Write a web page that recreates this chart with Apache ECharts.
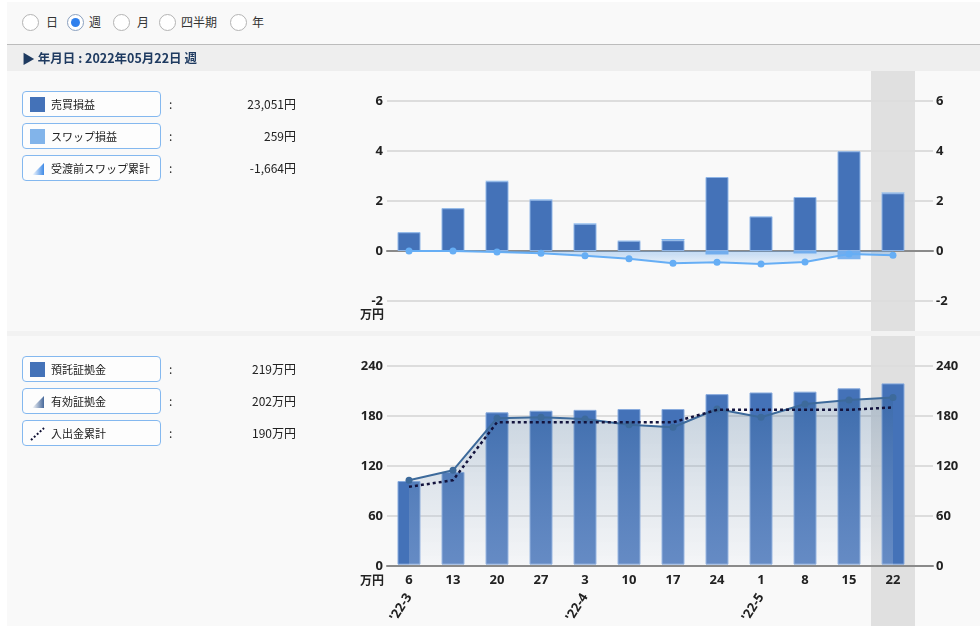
<!DOCTYPE html>
<html>
<head>
<meta charset="utf-8">
<script src="https://cdn.jsdelivr.net/npm/echarts@6/dist/echarts.min.js"></script>
<style>
  html, body { margin:0; padding:0; }
  body { width:980px; height:626px; overflow:hidden; background:#fff; position:relative;
         font-family:'Noto Sans CJK JP','Noto Sans',sans-serif; color:#222; }
  .abs { position:absolute; }
  .radio { position:absolute; top:14px; width:15px; height:15px; border:1px solid #b4b4b4; border-radius:50%; background:#fff; }
  .radio.on { border-color:#8aa0bf; }
  .radio.on::after { content:''; position:absolute; left:3px; top:3px; width:9px; height:9px; border-radius:50%; background:#2f80ed; }
  .rlab { position:absolute; top:13px; font-size:12px; line-height:18px; color:#333; }
  .box { position:absolute; left:22px; width:137px; height:24px; border:1px solid #84b8ef; border-radius:4px; background:#fdfdfd; }
  .box svg { position:absolute; left:7px; top:5px; }
  .box span { position:absolute; left:28px; top:0; line-height:24px; font-size:11px; color:#222; }
  .colon { position:absolute; left:169px; font-size:12px; line-height:26px; color:#222; }
  .val { position:absolute; left:186px; width:110px; font-size:12px; line-height:26px; color:#222; text-align:right; }
</style>
</head>
<body>
<div class="abs" style="left:7px;top:2px;right:0;bottom:0;background:#f9f9f9"></div>
<div class="abs" style="left:7px;top:44px;right:0;height:1px;background:#bcbcbc"></div>
<div class="abs" style="left:7px;top:45px;right:0;height:26px;background:#eeeeee"></div>
<div class="abs" style="left:7px;top:331px;right:0;height:5px;background:#f2f2f2"></div>

<div class="radio" style="left:22px"></div><div class="rlab" style="left:46px">日</div>
<div class="radio on" style="left:67px"></div><div class="rlab" style="left:89px">週</div>
<div class="radio" style="left:113px"></div><div class="rlab" style="left:137px">月</div>
<div class="radio" style="left:159px"></div><div class="rlab" style="left:181px">四半期</div>
<div class="radio" style="left:230px"></div><div class="rlab" style="left:252px">年</div>

<div class="abs" style="left:22px;top:45px;height:26px;line-height:26px;font-size:12.5px;font-weight:bold;color:#1e3a60;z-index:3;white-space:nowrap">
  <span style="font-size:13px;color:#1e3a60">▶</span> 年月日 : 2022年05月22日 週
</div>

<div id="chart" class="abs" style="left:0;top:0;width:980px;height:626px;z-index:1"></div>

<div class="abs" style="left:0;top:0;width:980px;height:626px;z-index:2">
  <div class="box" style="top:91px"><svg width="15" height="15"><rect width="15" height="15" fill="#4472b8"/></svg><span>売買損益</span></div>
  <div class="colon" style="top:91px">:</div><div class="val" style="top:91px">23,051円</div>
  <div class="box" style="top:123px"><svg width="15" height="15"><rect width="15" height="15" fill="#82b4ea"/></svg><span>スワップ損益</span></div>
  <div class="colon" style="top:123px">:</div><div class="val" style="top:123px">259円</div>
  <div class="box" style="top:155px"><svg width="15" height="15"><defs><linearGradient id="g1" x1="0" x2="1" y1="0" y2="0"><stop offset="0" stop-color="#ffffff"/><stop offset="1" stop-color="#3f8ae6"/></linearGradient></defs><polygon points="2,14 14,14 14,2" fill="url(#g1)"/></svg><span>受渡前スワップ累計</span></div>
  <div class="colon" style="top:155px">:</div><div class="val" style="top:155px">-1,664円</div>

  <div class="box" style="top:356px"><svg width="15" height="15"><rect width="15" height="15" fill="#4472b8"/></svg><span>預託証拠金</span></div>
  <div class="colon" style="top:356px">:</div><div class="val" style="top:356px">219万円</div>
  <div class="box" style="top:388px"><svg width="15" height="15"><defs><linearGradient id="g2" x1="0" x2="1" y1="0" y2="0"><stop offset="0" stop-color="#ffffff"/><stop offset="1" stop-color="#46689a"/></linearGradient></defs><polygon points="2,14 14,14 14,2" fill="url(#g2)"/></svg><span>有効証拠金</span></div>
  <div class="colon" style="top:388px">:</div><div class="val" style="top:388px">202万円</div>
  <div class="box" style="top:420px"><svg width="15" height="15"><line x1="1" y1="14" x2="14" y2="2" stroke="#111133" stroke-width="2" stroke-dasharray="2,2"/></svg><span>入出金累計</span></div>
  <div class="colon" style="top:420px">:</div><div class="val" style="top:420px">190万円</div>
</div>

<script>
// ---- data ----
const weeks = ['6','13','20','27','3','10','17','24','1','8','15','22'];
const monthLabels = ["'22-3","","","","'22-4","","","","'22-5","","",""];
const selectedWeek = [0,0,0,0,0,0,0,0,0,0,0,1];
// top panel (万円)
const tradePL = [0.75,1.71,2.79,2.05,1.09,0.41,0.43,2.96,1.38,2.16,3.99,2.31];
const swapPL  = [0.01,0.01,0.02,0.02,0.02,0.01,0.05,-0.14,0.01,-0.10,-0.33,0.03];
const swapCum = [0.00,0.00,-0.04,-0.09,-0.19,-0.31,-0.49,-0.45,-0.52,-0.44,-0.12,-0.17];
const topTicks = {min:-2, max:6, interval:2};
// bottom panel (万円)
const deposit   = [101,112,184,186,187,188,188,206,208,209,213,219];
const effective = [102,114,177,178,176,169,166,188,178,194,199,202];
const cashflow  = [94,102,172,172,172,172,172,187,187,187,187,190];
const botTicks = {min:0, max:240, interval:60};

const FONT = '"Noto Sans","Noto Sans CJK JP",sans-serif';
const lab = {color:'#222', fontSize:13, fontWeight:'bold', fontFamily:FONT};
const hidden = {show:false};
const lg = (a,b)=>({type:'linear',x:0,y:0,x2:0,y2:1,colorStops:[{offset:0,color:a},{offset:1,color:b}]});

const chart = echarts.init(document.getElementById('chart'));
chart.setOption({
  animation:false,
  grid:[
    {left:387, right:47, top:101, height:200},
    {left:387, width:528, top:101, height:200},
    {left:387, width:528, top:71, height:260},
    {left:387, right:47, top:366, height:200},
    {left:387, width:528, top:366, height:200},
    {left:387, width:528, top:336, height:290}
  ],
  xAxis:[
    {gridIndex:0, type:'value', min:0, max:1, axisLine:{show:true,onZero:true,lineStyle:{color:'#8a8a8a',width:2}}, axisTick:hidden, axisLabel:hidden, splitLine:hidden},
    {gridIndex:1, type:'category', data:weeks, show:false},
    {gridIndex:2, type:'category', data:weeks, show:false},
    {gridIndex:3, type:'value', min:0, max:1, axisLine:{show:true,onZero:true,lineStyle:{color:'#8a8a8a',width:2}}, axisTick:hidden, axisLabel:hidden, splitLine:hidden},
    {gridIndex:4, type:'category', data:weeks, position:'bottom', axisLine:hidden, axisTick:hidden,
      axisLabel:Object.assign({}, lab, {interval:0, margin:9})},
    {gridIndex:4, type:'category', data:weeks, position:'bottom', offset:24, axisLine:hidden, axisTick:hidden,
      axisLabel:Object.assign({}, lab, {interval:0, margin:6, rotate:58, formatter:(v,i)=>monthLabels[i]})},
    {gridIndex:5, type:'category', data:weeks, show:false}
  ],
  yAxis:[
    Object.assign({gridIndex:0, type:'value', position:'left', axisLine:hidden, axisTick:hidden,
      axisLabel:Object.assign({}, lab, {margin:4}), splitLine:{lineStyle:{color:'#dddddd',width:2}},
      name:'万円', nameLocation:'start', nameGap:15,
      nameTextStyle:{color:'#222', fontSize:12, fontWeight:'bold', fontFamily:FONT, align:'right', verticalAlign:'middle', padding:[0,3,0,0]}}, topTicks),
    Object.assign({gridIndex:0, type:'value', position:'right', axisLine:hidden, axisTick:hidden,
      axisLabel:Object.assign({}, lab, {margin:3}), splitLine:hidden}, topTicks),
    Object.assign({gridIndex:1, type:'value', show:false, splitLine:hidden}, topTicks),
    {gridIndex:2, type:'value', min:0, max:1, show:false, splitLine:hidden},
    Object.assign({gridIndex:3, type:'value', position:'left', axisLine:hidden, axisTick:hidden,
      axisLabel:Object.assign({}, lab, {margin:4}), splitLine:{lineStyle:{color:'#dddddd',width:2}},
      name:'万円', nameLocation:'start', nameGap:16,
      nameTextStyle:{color:'#222', fontSize:12, fontWeight:'bold', fontFamily:FONT, align:'right', verticalAlign:'middle', padding:[0,3,0,0]}}, botTicks),
    Object.assign({gridIndex:3, type:'value', position:'right', axisLine:hidden, axisTick:hidden,
      axisLabel:Object.assign({}, lab, {margin:3}), splitLine:hidden}, botTicks),
    Object.assign({gridIndex:4, type:'value', show:false, splitLine:hidden}, botTicks),
    {gridIndex:5, type:'value', min:0, max:1, show:false, splitLine:hidden}
  ],
  series:[
    {type:'bar', xAxisIndex:2, yAxisIndex:3, data:selectedWeek, barWidth:'100%', itemStyle:{color:'#e0e0e0'}, z:-1, silent:true},
    {name:'売買損益', type:'bar', xAxisIndex:1, yAxisIndex:2, stack:'pl', data:tradePL, barWidth:23,
      itemStyle:{color:'#4472b8', borderColor:'#8fb5e6', borderWidth:1}},
    {name:'スワップ損益', type:'bar', xAxisIndex:1, yAxisIndex:2, stack:'pl', data:swapPL, barWidth:23,
      itemStyle:{color:'#7db3ee'}},
    {type:'line', xAxisIndex:1, yAxisIndex:2, data:swapCum, symbol:'none', lineStyle:{width:0},
      areaStyle:{color:lg('rgba(90,160,235,0.5)','rgba(90,160,235,0.15)')}, z:3, silent:true},
    {name:'受渡前スワップ累計', type:'line', xAxisIndex:1, yAxisIndex:2, data:swapCum, symbol:'circle', symbolSize:7,
      itemStyle:{color:'#66aef5'}, lineStyle:{color:'#66aef5', width:2}, z:4},

    {type:'bar', xAxisIndex:6, yAxisIndex:7, data:selectedWeek, barWidth:'100%', itemStyle:{color:'#e0e0e0'}, z:-1, silent:true},
    {name:'預託証拠金', type:'bar', xAxisIndex:4, yAxisIndex:6, data:deposit, barWidth:23,
      itemStyle:{color:'#4472b8', borderColor:'#87aadd', borderWidth:1}},
    {name:'有効証拠金', type:'line', xAxisIndex:4, yAxisIndex:6, data:effective, symbol:'circle', symbolSize:7,
      itemStyle:{color:'#3d6a9b'}, lineStyle:{color:'#3d6a9b', width:2},
      areaStyle:{color:lg('rgba(43,92,140,0.37)','rgba(225,232,242,0.3)')}, z:3},
    {name:'入出金累計', type:'line', xAxisIndex:4, yAxisIndex:6, data:cashflow, symbol:'none',
      lineStyle:{color:'#13133d', width:2.5, type:[3,3]}, z:4}
  ]
});
</script>
</body>
</html>
